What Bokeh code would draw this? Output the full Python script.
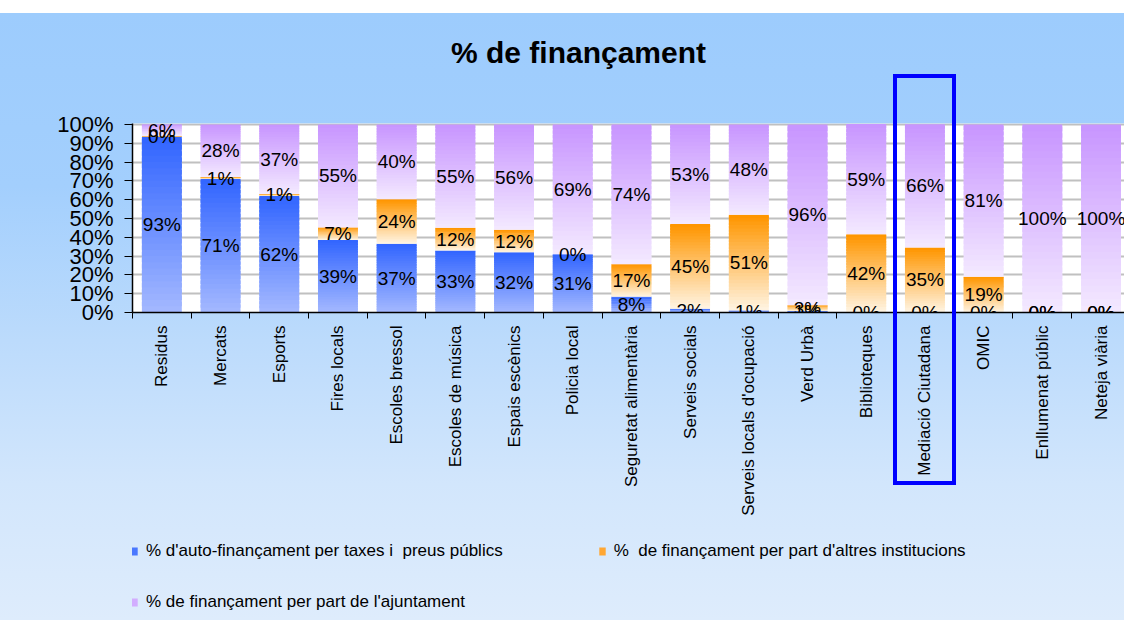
import math
from bokeh.plotting import figure
from bokeh.layouts import column
from bokeh.models import (Legend, LegendItem, FixedTicker, Label,
                          PrintfTickFormatter, Range1d, InlineStyleSheet)
from bokeh.core.properties import value
from bokeh.embed import file_html
from bokeh.resources import INLINE

# ---------------- data ----------------
categories = ["Residus", "Mercats", "Esports", "Fires locals", "Escoles bressol",
              "Escoles de música", "Espais escènics", "Policia local",
              "Seguretat alimentària", "Serveis socials", "Serveis locals d'ocupació",
              "Verd Urbà", "Biblioteques", "Mediació Ciutadana", "OMIC",
              "Enllumenat públic", "Neteja viària"]
auto_fin = [93.4, 71, 62, 38.6, 36.6, 33, 32, 31, 8.4, 2, 1, 0.8, 0, 0, 0, 0, 0]
altres_inst = [0.4, 1, 1, 6.6, 23.6, 12, 12, 0, 17.3, 45, 51, 3, 41.6, 34.6, 19, 0, 0]
ajuntament = [6.2, 28, 37, 54.8, 39.8, 55, 56, 69, 74.3, 53, 48, 96.2, 58.6, 65.5, 81, 100, 100]
series_names = ["% d'auto-finançament per taxes i  preus públics",
                "%  de finançament per part d'altres institucions",
                "% de finançament per part de l'ajuntament"]
chart_title = "% de finançament"
highlight = "Mediació Ciutadana"
y_ticks = [0, 10, 20, 30, 40, 50, 60, 70, 80, 90, 100]

W = 1124
H_TITLE, H_MAIN, H_LEG = 80, 460, 80
FONT = "Liberation Sans"
FL, FT, FB = 132, 123, 312          # frame left / top / bottom (page px)
n = len(categories)
x_end = 16.9

def bare(fig):
    fig.border_fill_color = None
    fig.border_fill_alpha = 0
    fig.background_fill_color = None
    fig.background_fill_alpha = 0
    fig.outline_line_color = None
    fig.xgrid.visible = False
    fig.ygrid.visible = False

# ---------- title strip ----------
tf = figure(width=W, height=H_TITLE, output_backend="svg", toolbar_location=None,
            x_range=Range1d(FL, W), y_range=Range1d(H_TITLE, 0),
            x_axis_type=None, y_axis_type=None,
            min_border_left=0, min_border_right=0, min_border_top=0, min_border_bottom=0)
bare(tf)
tf.add_layout(Label(x=578, y=52, text=chart_title, text_font=FONT, text_font_size="30px",
                    text_font_style="bold", text_color="black", text_align="center",
                    text_baseline="middle"))

# ---------- main chart ----------
p = figure(width=W, height=H_MAIN, output_backend="svg", toolbar_location=None,
           x_range=Range1d(0, x_end), y_range=Range1d(0, 100.5),
           min_border_left=FL, min_border_right=0, min_border_top=FT - H_TITLE,
           min_border_bottom=H_TITLE + H_MAIN - FB)
p.border_fill_color = None
p.border_fill_alpha = 0
p.background_fill_color = "white"
p.outline_line_color = None

dark_light = [((51, 102, 255), (162, 183, 255)),
              ((255, 150, 0), (255, 243, 224)),
              ((200, 150, 255), (243, 232, 255))]
legend_cols = ["#4a78ff", "#ffa733", "#d2adff"]
bw = 0.68
N = 28
stack = [auto_fin, altres_inst, ajuntament]
bottoms = [0.0] * n
label_x, label_y, label_t = [], [], []
for s, vals in enumerate(stack):
    dark, light = dark_light[s]
    L, R, B, T, C = [], [], [], [], []
    for i, v in enumerate(vals):
        b = bottoms[i]
        t = b + v
        label_x.append(i + 0.5)
        label_y.append((b + t) / 2)
        label_t.append("%d%%" % int(v + 0.5))
        if v > 0:
            for k in range(N):
                f = k / (N - 1)
                col = tuple(int(round(light[j] + (dark[j] - light[j]) * f)) for j in range(3))
                L.append(i + 0.5 - bw / 2)
                R.append(i + 0.5 + bw / 2)
                B.append(b + v * k / N)
                T.append(min(t, b + v * (k + 1.7) / N))
                C.append("#%02x%02x%02x" % col)
        bottoms[i] = t
    p.quad(left=L, right=R, bottom=B, top=T, fill_color=C, line_color=None)

p.text(x=label_x, y=label_y, text=label_t, text_font=value(FONT),
       text_font_size="19px", text_align="center", text_baseline="middle",
       text_color="black")

p.xgrid.grid_line_color = None
p.ygrid.grid_line_color = "#c0c0c0"
p.ygrid.grid_line_width = 2
p.ygrid.ticker = FixedTicker(ticks=y_ticks)

yax = p.yaxis[0]
yax.ticker = FixedTicker(ticks=y_ticks)
yax.formatter = PrintfTickFormatter(format="%d%%")
yax.major_label_text_font = FONT
yax.major_label_text_font_size = "22px"
yax.major_label_text_color = "black"
yax.axis_line_color = "black"
yax.axis_line_width = 1.5
yax.major_tick_line_color = "black"
yax.major_tick_out = 8
yax.major_tick_in = 0
yax.minor_tick_line_color = None
yax.major_label_standoff = 11

xax = p.xaxis[0]
centers = [i + 0.5 for i in range(n)]
xax.ticker = FixedTicker(ticks=centers, minor_ticks=list(range(n + 1)))
xax.major_label_overrides = {c: categories[i] for i, c in enumerate(centers)}
xax.major_label_orientation = math.pi / 2
xax.major_label_text_font = FONT
xax.major_label_text_font_size = "17px"
xax.major_label_text_color = "black"
xax.major_tick_line_color = None
xax.major_tick_out = 0
xax.major_tick_in = 0
xax.minor_tick_line_color = "black"
xax.minor_tick_out = 6
xax.minor_tick_in = 0
xax.axis_line_color = "black"
xax.axis_line_width = 1.5
xax.major_label_standoff = 7

# ---------- legend strip ----------
lf = figure(width=W, height=H_LEG, output_backend="svg", toolbar_location=None,
            x_range=Range1d(0, 1), y_range=Range1d(0, 1),
            x_axis_type=None, y_axis_type=None,
            min_border_left=0, min_border_right=0, min_border_top=0, min_border_bottom=0)
bare(lf)
proxies = [lf.quad(left=[-3], right=[-2], bottom=[-3], top=[-2],
                   fill_color=legend_cols[s], line_color=None) for s in range(3)]

leg_specs = [([0, 1], (-2, 59)), ([2], (-2, 8))]
for idxs, loc in leg_specs:
    lg = Legend(items=[LegendItem(label=series_names[s], renderers=[proxies[s]])
                       for s in idxs],
                location=loc, orientation="horizontal",
                glyph_width=8, glyph_height=10, label_height=18, label_standoff=8,
                padding=0, margin=0, spacing=95,
                label_text_font=FONT, label_text_font_size="17px",
                label_text_color="black", label_text_baseline="middle",
                border_line_color=None, background_fill_alpha=0)
    lf.add_layout(lg)

# highlight frame around one category (decoration spanning title, plot and labels)
cw = (W - FL) / x_end
hi = categories.index(highlight)
rl = FL + hi * cw - 2
layout = column(tf, p, lf, spacing=0,
                styles={"background": "linear-gradient(to bottom, #ffffff 0px, #ffffff 13px, "
                                      "#9dccfd 13px, #a3cffd 30%, #bcdbfc 55%, #d2e6fc 78%, "
                                      "#deecfc 100%)"})
layout.stylesheets = [InlineStyleSheet(css=(
    ":host { position: relative; }"
    ":host::after { content: ''; position: absolute; left: %.1fpx; top: 74px; "
    "width: %.1fpx; height: 411px; border: 4px solid #0000ff; box-sizing: border-box; "
    "pointer-events: none; z-index: 10; }" % (rl, cw + 4)))]

open("out.html", "w").write(file_html(layout, INLINE))
